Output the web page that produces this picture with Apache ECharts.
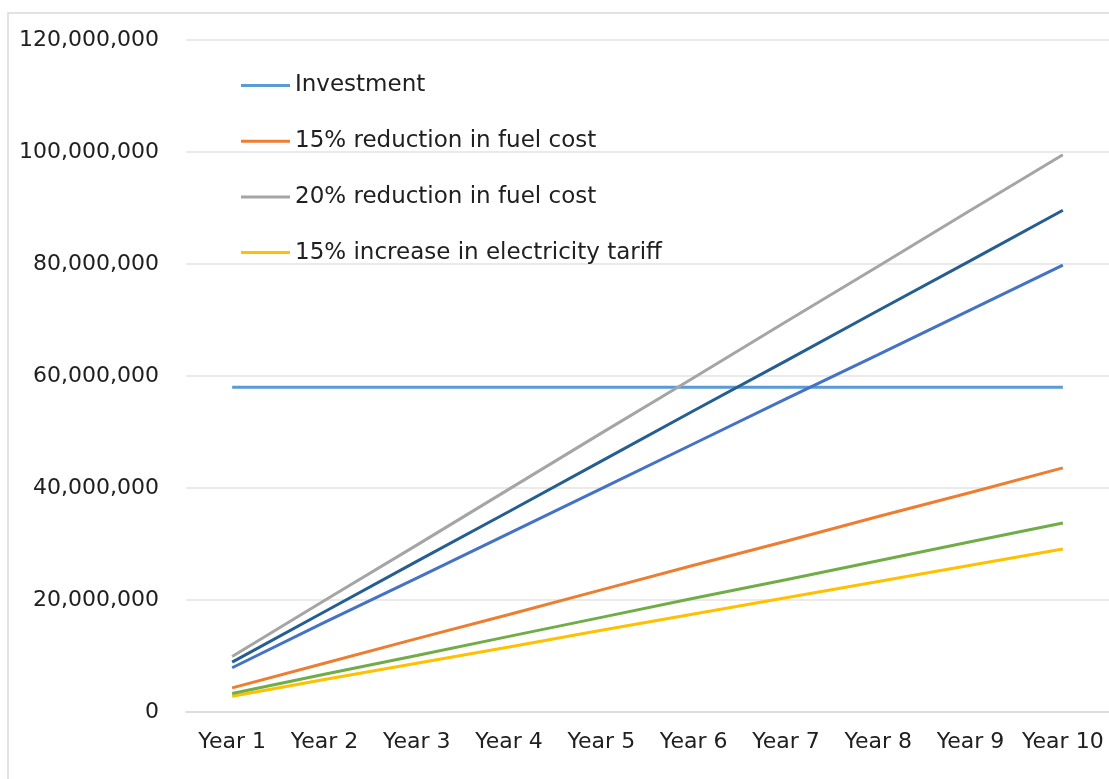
<!DOCTYPE html>
<html>
<head>
<meta charset="utf-8">
<script src="https://cdn.jsdelivr.net/npm/echarts@6/dist/echarts.min.js"></script>
<style>
  html, body { margin: 0; padding: 0; background: #ffffff; }
  #chart { width: 1109px; height: 779px; }
</style>
</head>
<body>
<div id="chart"></div>
<script>
// Year labels along the horizontal axis
var years = ['Year 1', 'Year 2', 'Year 3', 'Year 4', 'Year 5', 'Year 6', 'Year 7', 'Year 8', 'Year 9', 'Year 10'];

// Cumulative amounts per scenario
var investment      = [58000000, 58000000, 58000000, 58000000, 58000000, 58000000, 58000000, 58000000, 58000000, 58000000];
var fuelCut15       = [4300000, 8700000, 13100000, 17400000, 21800000, 26200000, 30500000, 34900000, 39200000, 43600000];
var fuelCut20       = [9900000, 19900000, 29800000, 39800000, 49800000, 59700000, 69700000, 79600000, 89600000, 99500000];
var tariffUp15      = [2800000, 5800000, 8700000, 11600000, 14600000, 17500000, 20400000, 23300000, 26200000, 29100000];
var scenarioBlue    = [7900000, 16000000, 23900000, 31900000, 39900000, 47900000, 55900000, 63800000, 71800000, 79800000];
var scenarioGreen   = [3300000, 6750000, 10100000, 13500000, 16900000, 20300000, 23600000, 27000000, 30400000, 33750000];
var scenarioNavy    = [8900000, 17900000, 26900000, 35800000, 44800000, 53800000, 62700000, 71700000, 80600000, 89600000];

// Value axis ticks
var yMin = 0, yMax = 120000000, yStep = 20000000;

var FONT = 'DejaVu Sans';
var TEXT = '#202020';

function line(name, data, color) {
  return {
    name: name,
    type: 'line',
    data: data,
    symbol: 'none',
    smooth: false,
    lineStyle: { color: color, width: 3 },
    itemStyle: { color: color },
    emphasis: { disabled: true }
  };
}

var chart = echarts.init(document.getElementById('chart'), null, { renderer: 'canvas' });
chart.setOption({
  animation: false,
  backgroundColor: '#ffffff',
  graphic: [{
    type: 'rect',
    shape: { x: 8, y: 13, width: 1200, height: 900 },
    style: { fill: 'none', stroke: '#d9d9d9', lineWidth: 1.5 },
    z: -1
  }],
  grid: { left: 186, top: 40, width: 929, height: 672 },
  legend: {
    orient: 'vertical',
    left: 241,
    top: 74,
    padding: 0,
    itemWidth: 49,
    itemHeight: 23,
    itemGap: 32.7,
    icon: 'path://M0,0 L49,0 L49,3 L0,3 Z',
    textStyle: { fontFamily: FONT, fontSize: 23, color: TEXT, padding: [0, 0, 0, 0] },
    data: ['Investment', '15% reduction in fuel cost', '20% reduction in fuel cost', '15% increase in electricity tariff']
  },
  xAxis: {
    type: 'category',
    data: years,
    boundaryGap: true,
    axisLine: { show: true, lineStyle: { color: '#d9d9d9', width: 1.5 } },
    axisTick: { show: false },
    axisLabel: { fontFamily: FONT, fontSize: 22, color: TEXT, margin: 19, interval: 0 }
  },
  yAxis: {
    type: 'value',
    min: yMin,
    max: yMax,
    interval: yStep,
    axisLine: { show: false },
    axisTick: { show: false },
    splitLine: { lineStyle: { color: '#e3e3e3', width: 1.5 } },
    axisLabel: {
      fontFamily: FONT, fontSize: 22, color: TEXT, margin: 27,
      formatter: function (v) { return v.toLocaleString('en-US'); }
    }
  },
  series: [
    line('Investment', investment, '#5B9BD5'),
    line('15% reduction in fuel cost', fuelCut15, '#ED7D31'),
    line('20% reduction in fuel cost', fuelCut20, '#A5A5A5'),
    line('15% increase in electricity tariff', tariffUp15, '#FFC000'),
    line('Scenario 5', scenarioBlue, '#4472C4'),
    line('Scenario 6', scenarioGreen, '#70AD47'),
    line('Scenario 7', scenarioNavy, '#255E91')
  ]
});
</script>
</body>
</html>
